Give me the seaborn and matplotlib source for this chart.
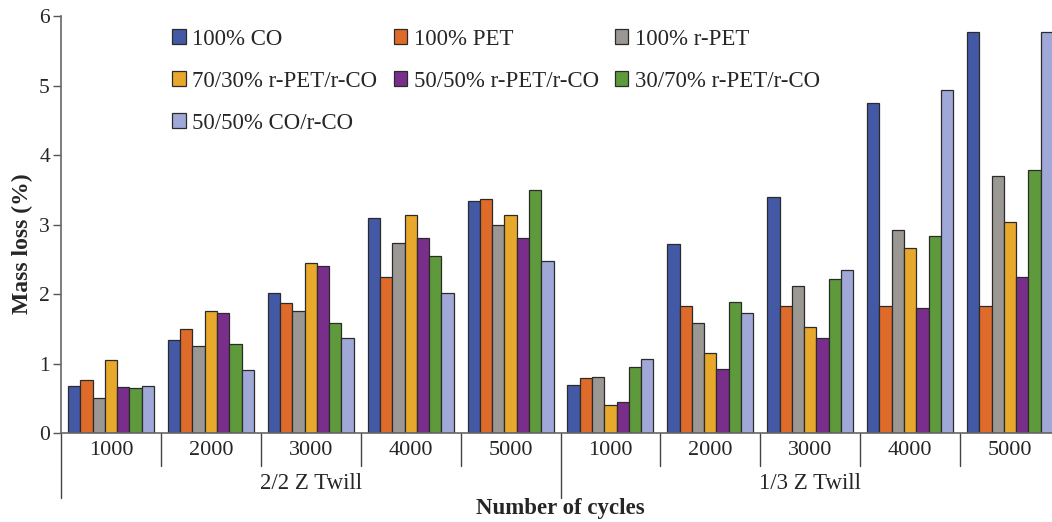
import matplotlib
matplotlib.use('Agg')
import matplotlib.pyplot as plt
import matplotlib.transforms as mtransforms
import seaborn as sns
import pandas as pd

# ── Data ────────────────────────────────────────────────
weaves = ['2/2 Z Twill', '1/3 Z Twill']
cycles = ['1000', '2000', '3000', '4000', '5000']
materials = ['100% CO', '100% PET', '100% r-PET', '70/30% r-PET/r-CO',
             '50/50% r-PET/r-CO', '30/70% r-PET/r-CO', '50/50% CO/r-CO']

# mass loss (%) per material, 10 groups: 2/2 twill 1000..5000, then 1/3 twill 1000..5000
co       = [0.68, 1.34, 2.01, 3.10, 3.34, 0.69, 2.72, 3.40, 4.75, 5.77]
pet      = [0.76, 1.50, 1.87, 2.25, 3.37, 0.79, 1.83, 1.83, 1.83, 1.83]
rpet     = [0.51, 1.25, 1.75, 2.74, 2.99, 0.81, 1.59, 2.11, 2.92, 3.70]
rpet70   = [1.05, 1.75, 2.44, 3.13, 3.13, 0.40, 1.15, 1.53, 2.66, 3.04]
rpet50   = [0.66, 1.73, 2.40, 2.81, 2.81, 0.45, 0.92, 1.36, 1.80, 2.25]
rpet30   = [0.65, 1.28, 1.59, 2.54, 3.50, 0.95, 1.89, 2.21, 2.83, 3.78]
co_rco   = [0.68, 0.90, 1.36, 2.01, 2.47, 1.07, 1.72, 2.35, 4.93, 5.77]

COLORS = ['#4359A5', '#DE6B2A', '#9B9792', '#E8A82C', '#7A2E8B', '#5E9A3B', '#9FA8D6']
SERIF = 'Liberation Serif'

groups = [f'{w}|{c}' for w in weaves for c in cycles]
series = [co, pet, rpet, rpet70, rpet50, rpet30, co_rco]
rows = []
for mat, vals in zip(materials, series):
    for g, v in zip(groups, vals):
        rows.append({'group': g, 'material': mat, 'loss': v})
df = pd.DataFrame(rows)

sns.set_style('white')
plt.rcParams['font.family'] = SERIF

fig = plt.figure(figsize=(10.52, 5.22), dpi=100)
ax = fig.add_axes([0.058, 0.1705, 0.942, 0.7988])

sns.barplot(data=df, x='group', y='loss', hue='material', order=groups,
            hue_order=materials, palette=COLORS, saturation=1, width=0.86,
            edgecolor='#2b2b2b', linewidth=0.9, ax=ax)

ax.set_ylim(0, 6)
ax.set_xlim(-0.5, 9.42)
ax.set_yticks(range(0, 7))
ax.set_xticks(range(len(groups)))
ax.set_xticklabels(cycles * 2, fontsize=16)
ax.tick_params(axis='x', length=0, pad=6)
ax.tick_params(axis='y', labelsize=15.5, length=6, width=1, left=True,
               direction='out', color='#555555', pad=2)
for s in ['top', 'right']:
    ax.spines[s].set_visible(False)
for s in ['left', 'bottom']:
    ax.spines[s].set_color('#666666')
    ax.spines[s].set_linewidth(1.2)

ax.set_xlabel('')
ax.set_ylabel('Mass loss (%)', fontsize=17, fontweight='bold')
ax.yaxis.set_label_coords(-0.0394, 0.453)
ax.yaxis.label.set_va('center')

# group separators below the axis
trans = mtransforms.blended_transform_factory(ax.transData, ax.transAxes)
for k in range(-1, 9):
    x = k + 0.5
    long_line = k in (-1, 4)
    ax.plot([x, x], [0, -0.155 if long_line else -0.078], transform=trans,
            color='#444444', lw=1.0, clip_on=False)

ax.text(2, -0.122, weaves[0], transform=trans, ha='center', va='center', fontsize=16.5)
ax.text(7, -0.122, weaves[1], transform=trans, ha='center', va='center', fontsize=16.5)
ax.text(4.5, -0.18, 'Number of cycles', transform=trans, ha='center', va='center',
        fontsize=16.5, fontweight='bold')

# legend: 3 columns filled row-wise
handles, labels = ax.get_legend_handles_labels()
ax.get_legend().remove()
order = [0, 3, 6, 1, 4, 2, 5]
leg = ax.legend([handles[i] for i in order], [labels[i] for i in order],
                ncol=3, loc='upper left', bbox_to_anchor=(0.103, 0.992),
                frameon=False, fontsize=16.5, handlelength=0.58, handleheight=0.58,
                handletextpad=0.3, labelspacing=0.92, columnspacing=0.7,
                borderaxespad=0)

fig.savefig('out.png', dpi=100, facecolor='white')
